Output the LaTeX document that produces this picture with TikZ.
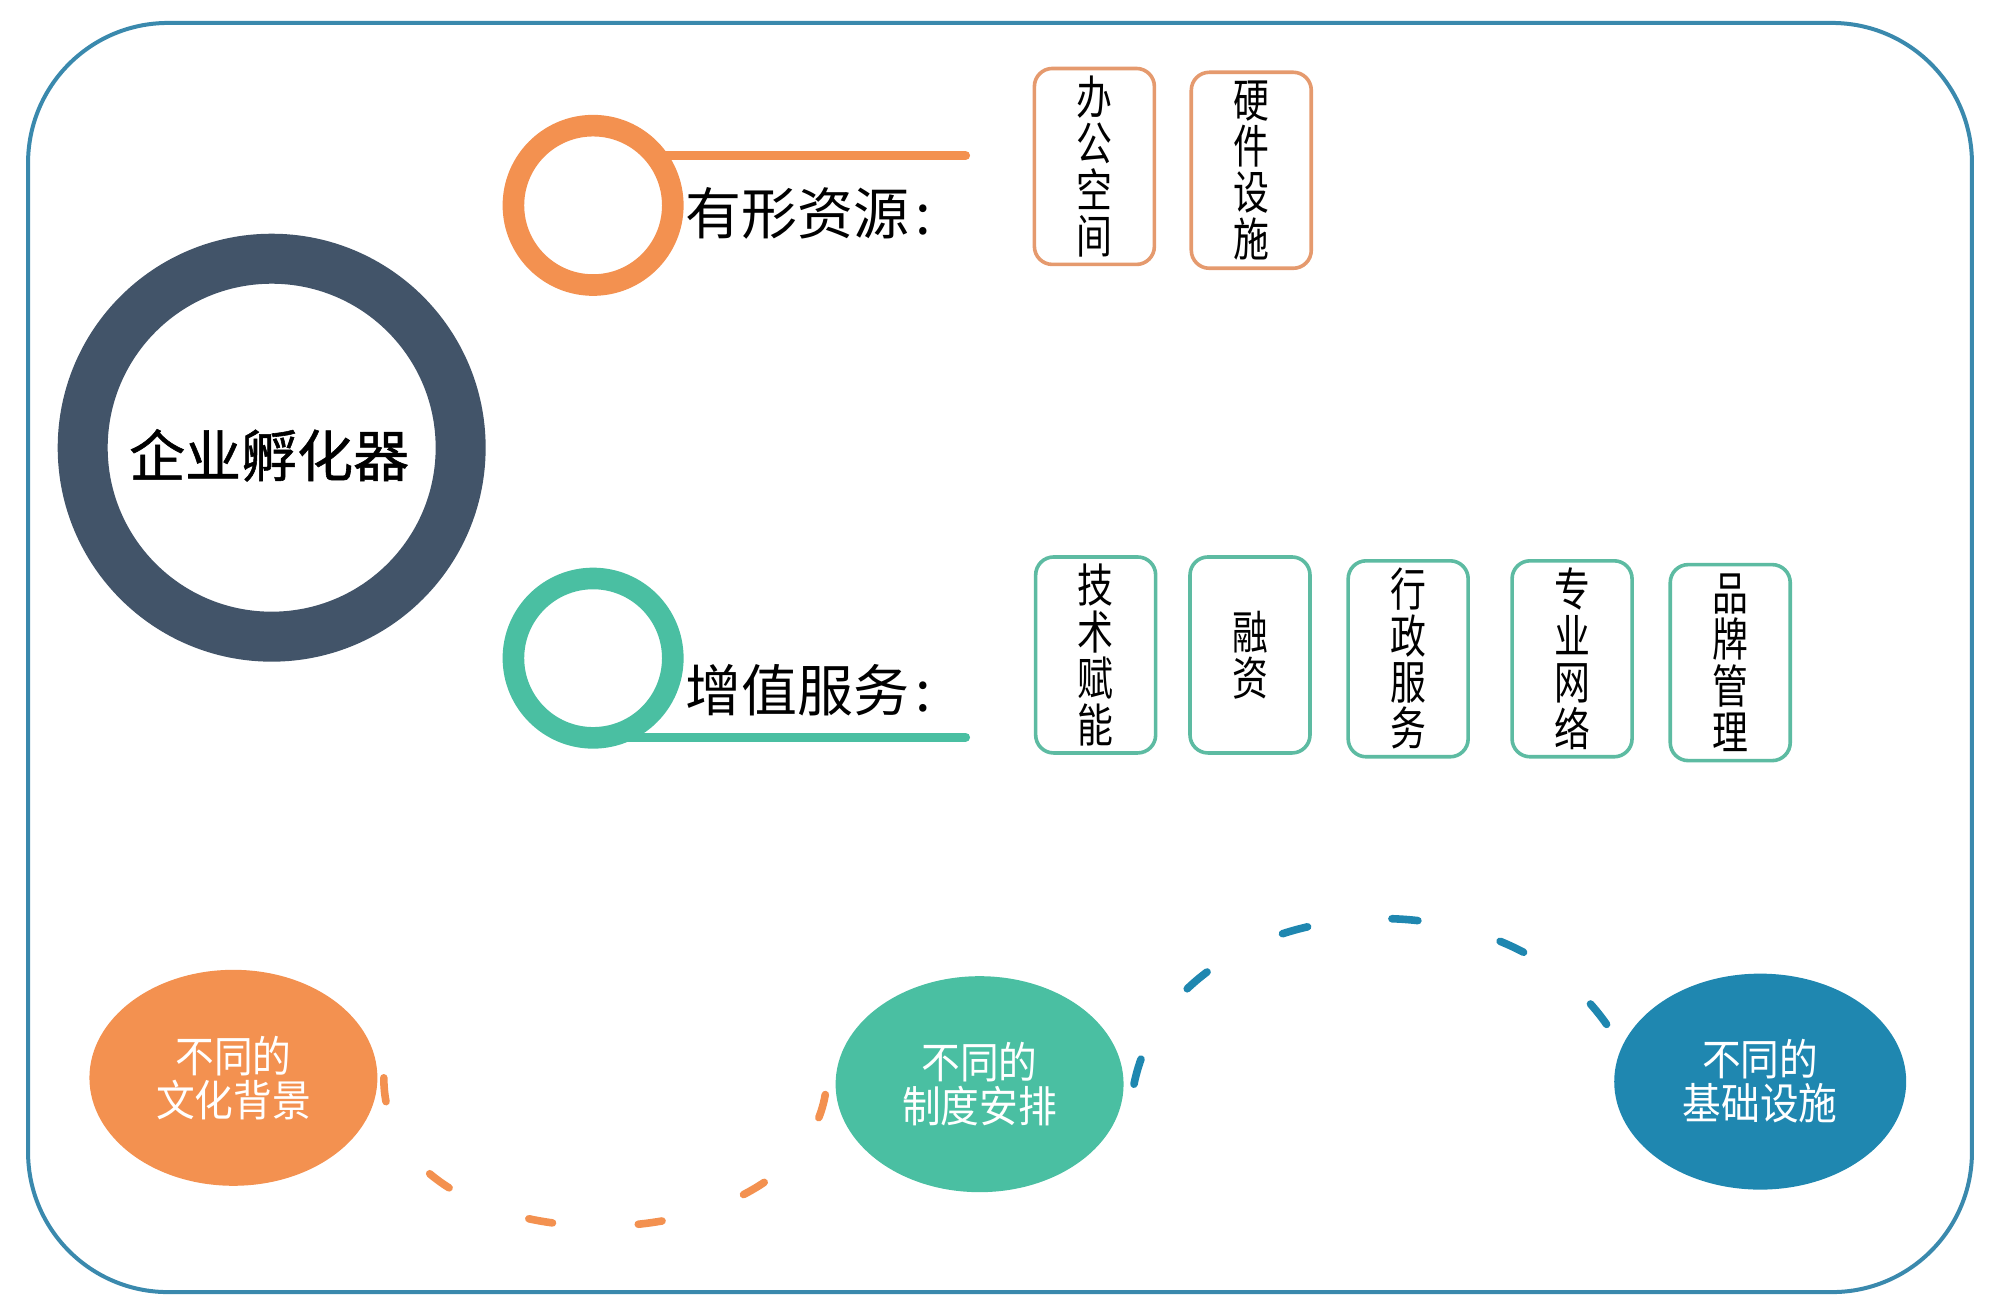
\documentclass[tikz,border=0pt]{standalone}
\usepackage{fontspec}
\setmainfont{Noto Sans CJK SC}
\newfontfamily\cjkn[FakeStretch=0.78]{Noto Sans CJK SC}
\newfontfamily\cjkw[FakeStretch=0.9]{Noto Sans CJK SC}
\newfontfamily\cjkb[FakeBold=1]{Noto Sans CJK SC}
\usetikzlibrary{shapes.geometric}
\definecolor{frameblue}{HTML}{3A89AD}
\definecolor{darkring}{HTML}{425469}
\definecolor{orng}{HTML}{F39150}
\definecolor{orngbox}{HTML}{E59A6E}
\definecolor{tealc}{HTML}{4ABFA2}
\definecolor{tealbox}{HTML}{5DBBA2}
\definecolor{blueell}{HTML}{1F87B0}
\begin{document}
\begin{tikzpicture}[x=0.6378pt,y=-0.6378pt,
  ring/.style={circle, draw, fill=white, inner sep=0pt},
  vbox/.style={draw, rounded corners=9pt, line width=1.8pt, fill=white,
    minimum width=60pt, minimum height=98pt, inner sep=0pt, align=center,
    font=\cjkn\fontsize{23}{23.2}\selectfont},
  obox/.style={vbox, draw=orngbox},
  tbox/.style={vbox, draw=tealbox},
  bigell/.style={ellipse, inner sep=0pt, minimum width=144pt, minimum height=108pt,
    text=white, align=center, font=\cjkw\fontsize{21.5}{22}\selectfont},
  dashc/.style={line width=3.8pt, line cap=round},
  lbl/.style={anchor=west, inner sep=0pt, font=\fontsize{28}{30}\selectfont}
]
\useasboundingbox (0,0) rectangle (1568,1023);
% outer frame
\draw[frameblue, line width=2pt, rounded corners=70pt] (22,18) rectangle (1546,1013);

% central ring
\node[ring, draw=darkring, line width=25pt, minimum size=189pt] (main) at (213,351) {};
\node[font=\cjkb\fontsize{28}{30}\selectfont] (maint) at (211,357) {企业孵化器};

% tangible resources
\coordinate (c1) at (465,161);
\coordinate (e1) at (757,122);
\draw[orng, line width=4.5pt, line cap=round] (c1 |- e1) -- (e1);
\node[ring, draw=orng, line width=10.8pt, minimum size=79.7pt] (r1) at (c1) {};
\node[lbl] (l1) at (537,167) {有形资源\kern3pt:};
\node[obox] (b11) at (858,130.5) {办\\公\\空\\间};
\node[obox] (b12) at (981,133.5) {硬\\件\\设\\施};

% value-added services
\coordinate (c2) at (465,516);
\coordinate (e2) at (757,578);
\draw[tealc, line width=4.5pt, line cap=round] (c2 |- e2) -- (e2);
\node[ring, draw=tealc, line width=10.8pt, minimum size=79.7pt] (r2) at (c2) {};
\node[lbl] (l2) at (537,541) {增值服务\kern3pt:};
\node[tbox] (b21) at (859,513.5) {技\\术\\赋\\能};
\node[tbox] (b22) at (980,513.5) {融\\资};
\node[tbox] (b23) at (1104,516.5) {行\\政\\服\\务};
\node[tbox] (b24) at (1232.5,516.5) {专\\业\\网\\络};
\node[tbox] (b25) at (1356.5,519.5) {品\\牌\\管\\理};

% bottom ellipses
\node[bigell, fill=orng] (oe) at (183,845) {不同的\\文化背景};
\node[bigell, fill=tealc] (te) at (768,850) {不同的\\制度安排};
\node[bigell, fill=blueell, minimum width=146pt] (be) at (1380,848) {不同的\\基础设施};

\draw[dashc, orng, dash pattern=on 12pt off 43pt]
  ([xshift=3pt]oe.east) .. controls +(0,158) and +(0,158) .. ([xshift=-4pt,yshift=6pt]te.west);
\draw[dashc, blueell, dash pattern=on 13pt off 42.5pt]
  ([xshift=5pt]te.east) .. controls +(31,-152) and +(-86,-138) .. ([xshift=-8pt]be.160);
\end{tikzpicture}
\end{document}
